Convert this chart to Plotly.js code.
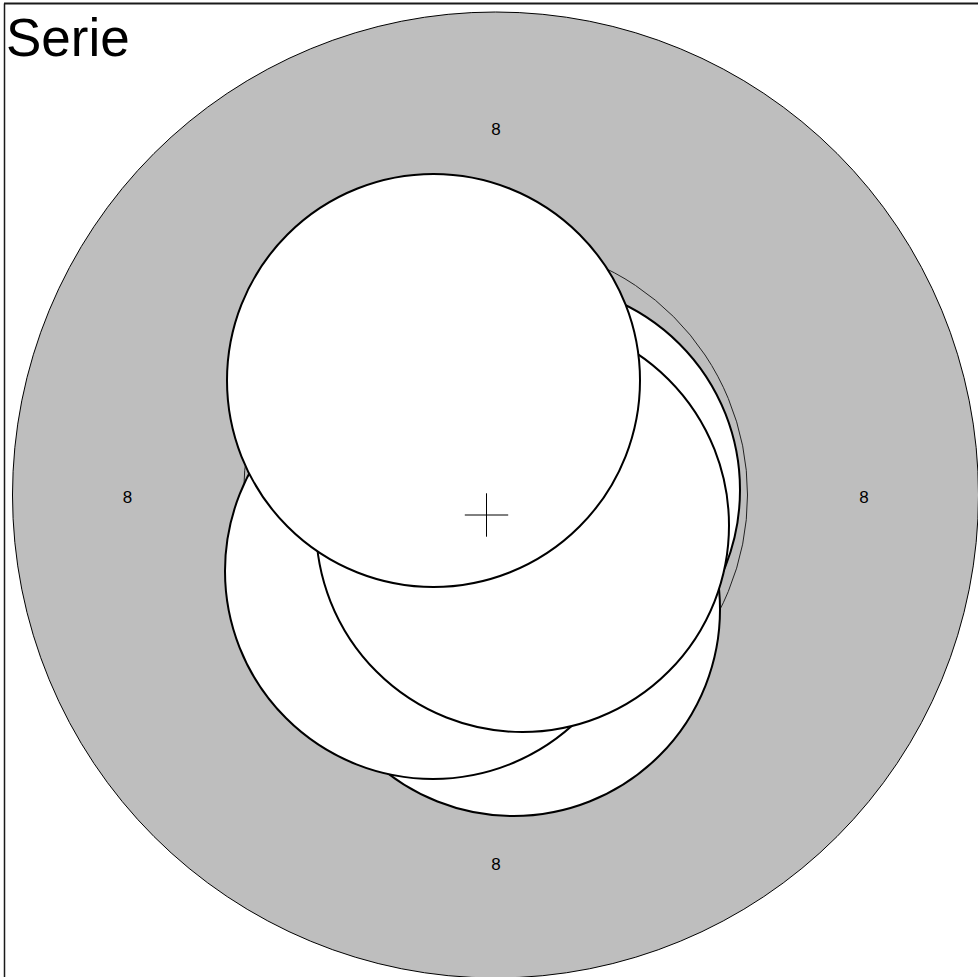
<!DOCTYPE html>
<html>
<head>
<meta charset="utf-8">
<script src="https://cdn.plot.ly/plotly-3.0.1.min.js"></script>
<style>html,body{margin:0;padding:0;background:#fff;}#chart{width:978px;height:977px;}</style>
</head>
<body>
<div id="chart"></div>
<script>
// Outer disc (gray) and inner reference ring, centred at origin
const outerRadius = 483;
const refRadius = 252;

// White circles (series), drawn bottom-most first
const circleNames = ["C4", "C3", "C5", "C2", "C1"];
const circleX = [18, -62.5, 38, 27, -62];
const circleY = [-114.5, -76, 5, -30.5, 114.5];
const circleR = [206.5, 208, 206.5, 206.5, 206.5];

// Centre marker
const markerX = [-9];
const markerY = [-20];

// Axis labels around the disc
const labelText = ["8", "8", "8", "8"];
const labelX = [0.5, -368, 368.5, 0.5];
const labelY = [364, -4, -4, -371];

const titleText = "Serie";

const shapes = [];
// outer gray disc
shapes.push({type: "circle", xref: "x", yref: "y", layer: "below",
  x0: -outerRadius, x1: outerRadius, y0: -outerRadius, y1: outerRadius,
  fillcolor: "#bebebe", line: {color: "#000", width: 1}});
// reference ring (outline only)
shapes.push({type: "circle", xref: "x", yref: "y", layer: "below",
  x0: -refRadius, x1: refRadius, y0: -refRadius, y1: refRadius,
  fillcolor: "rgba(0,0,0,0)", line: {color: "#222", width: 1}});
for (let i = 0; i < circleX.length; i++) {
  shapes.push({type: "circle", xref: "x", yref: "y", layer: "below",
    x0: circleX[i] - circleR[i], x1: circleX[i] + circleR[i],
    y0: circleY[i] - circleR[i], y1: circleY[i] + circleR[i],
    fillcolor: "#ffffff", line: {color: "#000", width: 2}});
}
// frame (top & left edges of the figure box)
shapes.push({type: "line", xref: "paper", yref: "paper", x0: 4/978, x1: 1.01, y0: 1 - 3.5/977, y1: 1 - 3.5/977,
  line: {color: "#1a1a1a", width: 2}});
shapes.push({type: "line", xref: "paper", yref: "paper", x0: 4.5/978, x1: 4.5/978, y0: -0.01, y1: 1 - 3.5/977,
  line: {color: "#1a1a1a", width: 1.5}});

const traces = [
  {type: "scatter", mode: "markers", x: markerX, y: markerY, hoverinfo: "skip",
   marker: {symbol: "cross-thin", size: 31, color: "#000", line: {color: "#000", width: 1}}},
  {type: "scatter", mode: "text", x: labelX, y: labelY, text: labelText, hoverinfo: "skip",
   textfont: {family: "Liberation Sans, Arial, sans-serif", size: 17, color: "#000"}}
];

const layout = {
  width: 978, height: 977,
  margin: {l: 0, r: 0, t: 0, b: 0},
  paper_bgcolor: "#fff", plot_bgcolor: "#fff",
  showlegend: false,
  xaxis: {range: [-495.5, 482.5], visible: false, fixedrange: true},
  yaxis: {range: [-482, 495], visible: false, fixedrange: true},
  shapes: shapes,
  title: {text: titleText, xref: "container", yref: "container", x: 6/978, xanchor: "left",
          y: 1 - 19/977, yanchor: "top",
          font: {family: "Liberation Sans, Arial, sans-serif", size: 53, color: "#000"}}
};

Plotly.newPlot("chart", traces, layout, {displayModeBar: false, staticPlot: true});
</script>
</body>
</html>
